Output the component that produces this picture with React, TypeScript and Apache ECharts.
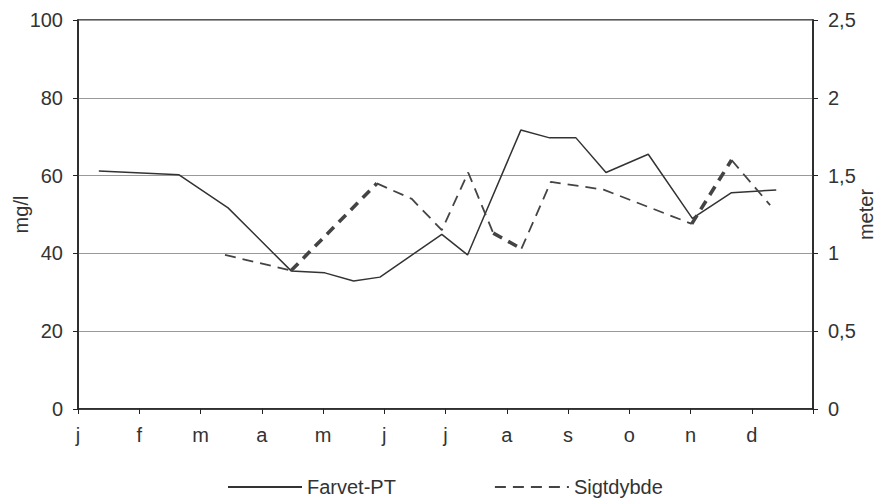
import React, { useEffect, useRef } from "react";
import * as echarts from "echarts";

const monthLabels = ["j", "f", "m", "a", "m", "j", "j", "a", "s", "o", "n", "d"];
const leftTicks = [0, 20, 40, 60, 80, 100];
const rightTicks = [0, 0.5, 1, 1.5, 2, 2.5];

// Farvet-PT (mg/l), x in months from start of January
const farvetMonths = [0.34, 1.65, 2.45, 3.48, 4.03, 4.5, 4.93, 5.94, 6.36, 7.23, 7.7, 8.13, 8.62, 9.31, 10.03, 10.67, 11.4];
const farvetValues = [61.2, 60.2, 51.7, 35.5, 35.0, 32.9, 33.9, 44.9, 39.6, 71.7, 69.7, 69.7, 60.8, 65.5, 49.0, 55.6, 56.3];

// Sigtdybde (meter)
const sigtMonths = [2.4, 3.48, 4.88, 5.45, 5.94, 6.37, 6.78, 7.24, 7.72, 8.58, 10.02, 10.67, 11.3];
const sigtValues = [0.99, 0.89, 1.45, 1.35, 1.15, 1.52, 1.13, 1.03, 1.46, 1.41, 1.19, 1.6, 1.31];
// segments (starting at index i) printed with a heavier stroke in the original
const sigtBoldSegments = [1, 6, 10];

const FONT = "Liberation Sans, Arial, sans-serif";
const TXT = "#333";

export default function App() {
  const ref = useRef<HTMLDivElement>(null);
  useEffect(() => {
    if (!ref.current) return;
    const chart = echarts.init(ref.current, undefined, { renderer: "svg" });
    const sigtData = sigtMonths.map((m, i) => [m, sigtValues[i]]);
    // thin series: break the line where a heavy segment is drawn instead
    const thinData: any[] = [];
    sigtData.forEach((p, i) => {
      thinData.push(p);
      if (sigtBoldSegments.includes(i)) thinData.push([p[0], null]);
    });
    const boldSeries = sigtBoldSegments.map((s) => ({
      name: "Sigtdybde-bold",
      type: "line",
      yAxisIndex: 1,
      symbol: "none",
      silent: true,
      data: [sigtData[s], sigtData[s + 1]],
      lineStyle: { color: "#444", width: 3.6, type: [10, 7] },
      itemStyle: { color: "#444" },
    }));
    chart.setOption({
      animation: false,
      backgroundColor: "#fff",
      textStyle: { fontFamily: FONT },
      grid: {
        left: 78,
        right: 74,
        top: 20,
        bottom: 94,
        show: true,
        borderColor: "#222",
        borderWidth: 1.5,
        outerBoundsMode: "none",
      },
      legend: {
        left: 222,
        top: 472,
        itemWidth: 74,
        itemHeight: 14,
        itemGap: 98,
        itemStyle: { opacity: 0 },
        textStyle: { fontSize: 20, color: TXT, fontFamily: FONT },
        data: ["Farvet-PT", "Sigtdybde"],
      },
      xAxis: {
        type: "value",
        min: 0,
        max: 12,
        interval: 1,
        axisLine: { show: true, lineStyle: { color: "#222", width: 1.5 } },
        axisTick: { show: true, length: 5, lineStyle: { color: "#222" } },
        splitLine: { show: false },
        axisLabel: {
          margin: 16,
          fontSize: 20,
          color: TXT,
          fontFamily: FONT,
          formatter: (v: number) => monthLabels[Math.round(v)] ?? "",
        },
      },
      yAxis: [
        {
          type: "value",
          min: leftTicks[0],
          max: leftTicks[leftTicks.length - 1],
          interval: 20,
          name: "mg/l",
          nameLocation: "middle",
          nameGap: 47,
          nameMoveOverlap: false,
          nameTextStyle: { fontSize: 20, color: TXT, fontFamily: FONT },
          axisLine: { show: true, lineStyle: { color: "#222", width: 1.5 } },
          axisTick: { show: true, length: 5, lineStyle: { color: "#222" } },
          splitLine: { show: true, lineStyle: { color: "#999", width: 1 } },
          axisLabel: { margin: 15, fontSize: 20, color: TXT, fontFamily: FONT },
        },
        {
          type: "value",
          min: rightTicks[0],
          max: rightTicks[rightTicks.length - 1],
          interval: 0.5,
          name: "meter",
          nameLocation: "middle",
          nameGap: 43,
          nameMoveOverlap: false,
          nameTextStyle: { fontSize: 20, color: TXT, fontFamily: FONT },
          axisLine: { show: true, lineStyle: { color: "#222", width: 1.5 } },
          axisTick: { show: true, length: 5, lineStyle: { color: "#222" } },
          splitLine: { show: false },
          axisLabel: {
            margin: 15,
            fontSize: 20,
            color: TXT,
            fontFamily: FONT,
            formatter: (v: number) => String(v).replace(".", ","),
          },
        },
      ],
      series: [
        {
          name: "Farvet-PT",
          type: "line",
          yAxisIndex: 0,
          symbol: "none",
          data: farvetMonths.map((m, i) => [m, farvetValues[i]]),
          lineStyle: { color: "#333", width: 1.5 },
          itemStyle: { color: "#333" },
        },
        {
          name: "Sigtdybde",
          type: "line",
          yAxisIndex: 1,
          symbol: "none",
          connectNulls: false,
          data: thinData,
          lineStyle: { color: "#444", width: 1.8, type: [11, 7] },
          itemStyle: { color: "#444" },
        },
        ...boldSeries,
      ],
    });
    return () => chart.dispose();
  }, []);
  return (
    <div
      ref={ref}
      style={{ position: "fixed", left: 0, top: 0, width: 887, height: 503 }}
    />
  );
}
